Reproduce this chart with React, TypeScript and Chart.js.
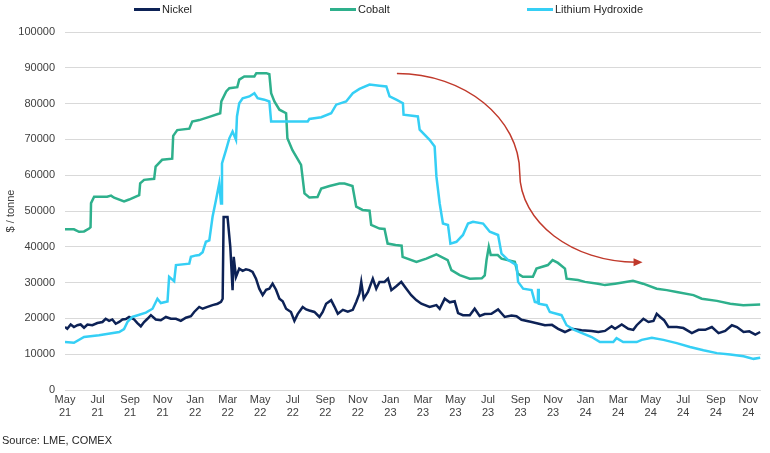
import React, { useEffect, useRef } from "react";
import { Chart, registerables } from "chart.js";

Chart.register(...registerables);

// ---------- data (x = months since May 2021, y = $ / tonne) ----------
const seriesNames = ["Nickel", "Cobalt", "Lithium Hydroxide"];
const seriesColors = ["#0d2256", "#2eb08c", "#35cff5"];

const xTickLabels = [
  "May 21", "Jul 21", "Sep 21", "Nov 21", "Jan 22", "Mar 22", "May 22", "Jul 22",
  "Sep 22", "Nov 22", "Jan 23", "Mar 23", "May 23", "Jul 23", "Sep 23", "Nov 23",
  "Jan 24", "Mar 24", "May 24", "Jul 24", "Sep 24", "Nov 24",
];

const nickel: [number, number][] = [
  [0, 17600], [0.14, 17100], [0.35, 18300], [0.55, 17600], [0.76, 18100], [0.96, 18300],
  [1.17, 17400], [1.38, 18300], [1.68, 18100], [1.99, 18700], [2.3, 19000], [2.5, 19900],
  [2.71, 19300], [2.91, 19700], [3.12, 18500], [3.33, 19000], [3.53, 19700], [3.74, 19800],
  [3.94, 20400], [4.25, 19700], [4.45, 18700], [4.66, 17800], [4.86, 19000], [5.07, 19900],
  [5.28, 20900], [5.58, 19700], [5.89, 19500], [6.2, 20400], [6.51, 19900], [6.82, 19900],
  [7.12, 19300], [7.43, 20200], [7.74, 20600], [7.94, 21800], [8.25, 23200], [8.46, 22700],
  [8.76, 23200], [9.07, 23700], [9.38, 24100], [9.59, 24600], [9.69, 25500],
  [9.75, 48300], [9.99, 48300], [10.16, 40000], [10.3, 27900], [10.37, 37200],
  [10.51, 31600], [10.71, 33900], [10.92, 33300], [11.12, 33700], [11.33, 33500], [11.53, 33000],
  [11.74, 31100], [11.94, 28300], [12.15, 26500], [12.36, 28000], [12.56, 28300], [12.76, 29700],
  [12.97, 28000], [13.18, 25500], [13.38, 24800], [13.59, 22700], [13.89, 21800], [14.1, 19300],
  [14.3, 21200], [14.61, 23200], [14.82, 22500], [15.02, 22200], [15.33, 21800], [15.64, 20400],
  [15.84, 21800], [16.05, 24100], [16.36, 25100], [16.56, 23300], [16.77, 21300], [17.08, 22400],
  [17.38, 21900], [17.69, 22400], [17.9, 24600], [18.1, 27000], [18.21, 30200], [18.36, 25500],
  [18.62, 27400], [18.92, 31100], [19.13, 28300], [19.33, 30200], [19.64, 30200], [19.85, 31100],
  [20.06, 27900], [20.36, 29000], [20.67, 30200], [20.98, 28300], [21.28, 26500], [21.59, 25100],
  [21.9, 24100], [22.41, 23200], [22.83, 23700], [23.03, 22700], [23.34, 25500], [23.65, 24500],
  [23.95, 24800], [24.16, 21500], [24.46, 20900], [24.88, 20900], [25.18, 22700], [25.49, 20700],
  [25.8, 21200], [26.21, 21300], [26.62, 22500], [27.03, 20400], [27.44, 20800], [27.75, 20600],
  [28.06, 19600], [28.68, 19000], [29.5, 18100], [29.93, 18200], [30.31, 17100], [30.73, 16200],
  [31.14, 17100], [31.75, 16700], [32.37, 16500], [32.78, 16200], [33.19, 16500], [33.6, 17800],
  [33.81, 17100], [34.22, 18300], [34.62, 17100], [34.93, 16800], [35.14, 18100], [35.55, 19900],
  [35.86, 19000], [36.17, 19300], [36.37, 21300], [36.58, 20400], [36.82, 19500], [37.09, 17600],
  [37.6, 17600], [38.01, 17300], [38.53, 15900], [38.94, 16800], [39.35, 16800], [39.76, 17600],
  [40.17, 15900], [40.58, 16500], [40.99, 18100], [41.3, 17600], [41.71, 16200], [42.06, 16400],
  [42.43, 15500], [42.73, 16200],
];

const cobalt: [number, number][] = [
  [0, 44900], [0.55, 44900], [0.86, 44200], [1.17, 44300], [1.48, 45100], [1.57, 45500],
  [1.6, 52200], [1.79, 54000], [2.59, 54000], [2.83, 54300], [3.02, 53700], [3.63, 52700],
  [3.94, 53200], [4.56, 54400], [4.62, 57700], [4.86, 58700], [5.48, 59000], [5.57, 62400],
  [5.97, 64300], [6.59, 64600], [6.65, 71000], [6.9, 72600], [7.64, 73000], [7.82, 75000],
  [8.25, 75400], [8.87, 76300], [9.54, 77300], [9.61, 80600], [9.91, 83400], [10.1, 84300],
  [10.59, 84600], [10.71, 86700], [11.02, 87600], [11.64, 87600], [11.76, 88500], [12.38, 88500],
  [12.56, 88200], [12.67, 82900], [12.87, 80600], [13.18, 78300], [13.59, 77300], [13.67, 70300],
  [13.98, 67000], [14.51, 62900], [14.72, 54900], [15.02, 53800], [15.52, 53900], [15.75, 56300],
  [16.26, 57000], [16.87, 57700], [17.18, 57700], [17.67, 57000], [17.9, 51200], [18.29, 50300],
  [18.72, 50100], [18.82, 46100], [19.33, 45100], [19.64, 45000], [19.83, 40900], [20.32, 40500],
  [20.69, 40300], [20.75, 37200], [21.6, 35800], [22.21, 36700], [22.83, 37900], [23.52, 36300],
  [23.75, 33500], [24.26, 32100], [24.88, 31100], [25.62, 31200], [25.8, 32000], [25.91, 36300],
  [26.05, 40000], [26.17, 37700], [26.6, 37700], [26.83, 36700], [27.65, 35800], [27.83, 32500],
  [28.14, 31600], [28.76, 31600], [28.98, 33900], [29.68, 34900], [29.97, 36300], [30.3, 35500],
  [30.73, 33900], [30.83, 31100], [31.53, 30700], [31.96, 30200], [32.76, 29700], [33.19, 29300],
  [33.81, 29700], [34.91, 30500], [35.53, 29700], [36.37, 28300], [36.99, 27900], [37.6, 27400],
  [38.63, 26500], [39.14, 25500], [40.07, 24900], [40.89, 24100], [41.69, 23700], [42.73, 23900],
];

const lithium: [number, number][] = [
  [0, 13400], [0.55, 13200], [1.17, 14800], [2.09, 15300], [3.33, 16200], [3.63, 17000],
  [3.84, 19000], [4.14, 20400], [4.97, 21600], [5.38, 22700], [5.68, 25500], [5.89, 24300],
  [6.3, 24700], [6.4, 31600], [6.71, 30400], [6.82, 34900], [7.64, 35300], [7.74, 37200],
  [8.05, 37600], [8.25, 37700], [8.46, 38500], [8.66, 41400], [8.87, 41800], [9.07, 48400],
  [9.28, 53100], [9.48, 57700], [9.59, 52100], [9.65, 63300], [9.9, 67100], [10.1, 70300],
  [10.3, 72200], [10.51, 69900], [10.57, 76400], [10.71, 80100], [10.92, 81500], [11.33, 82000],
  [11.64, 82900], [11.84, 81500], [12.25, 81100], [12.56, 80600], [12.67, 75000], [14.92, 75000],
  [15.02, 75700], [15.75, 76200], [16.36, 77300], [16.67, 79700], [17.28, 80600], [17.69, 82900],
  [18.1, 84100], [18.72, 85300], [19.33, 85000], [19.75, 84800], [19.95, 82000], [20.36, 81100],
  [20.77, 80100], [20.81, 76900], [21.69, 76400], [21.8, 72700], [22.41, 69900], [22.72, 68000],
  [22.83, 59600], [23.03, 52100], [23.23, 46500], [23.54, 46100], [23.69, 40900], [24.06, 41400],
  [24.46, 43300], [24.77, 46500], [25.08, 47000], [25.7, 46500], [26.11, 44200], [26.62, 43300],
  [26.83, 38100], [27.24, 36300], [27.75, 34900], [27.85, 30200], [28.16, 28300], [28.68, 27900],
  [28.88, 24600], [29.06, 24400], [29.08, 28300], [29.12, 24100], [29.6, 23700], [29.8, 21800],
  [30.52, 20900], [30.83, 18100], [31.34, 16700], [32.37, 14800], [32.88, 13400], [33.7, 13400],
  [33.9, 14500], [34.31, 13400], [35.14, 13400], [35.45, 14000], [36.07, 14600], [36.78, 14000],
  [37.6, 13100], [38.42, 12000], [39.24, 11100], [40.07, 10300], [40.89, 9900], [41.71, 9400],
  [42.32, 8700], [42.73, 9000],
];

// annotation arrow: start, turning point, end (months, $ / tonne)
const arrowPath: [number, number][] = [
  [20.4, 88400],
  [27.95, 60600],
  [35.5, 35700],
];

const X_MAX = 42.78;
const FONT = "'Liberation Sans', Arial, sans-serif";
const TEXT_COLOR = "#404040";

const arrowPlugin = {
  id: "trendArrow",
  afterDatasetsDraw(chart: any) {
    const { ctx, scales } = chart;
    const xs = scales.x;
    const ys = scales.y;
    const [a, b, c] = arrowPath.map(([m, v]) => [xs.getPixelForValue(m), ys.getPixelForValue(v)]);
    const k = 0.55;
    const endX = c[0] - 6;
    ctx.save();
    ctx.strokeStyle = "#c0392b";
    ctx.fillStyle = "#c0392b";
    ctx.lineWidth = 1.5;
    ctx.beginPath();
    ctx.moveTo(a[0], a[1]);
    ctx.bezierCurveTo(a[0] + k * (b[0] - a[0]), a[1], b[0], b[1] - k * (b[1] - a[1]), b[0], b[1]);
    ctx.bezierCurveTo(b[0], b[1] + k * (c[1] - b[1]), endX - k * (endX - b[0]), c[1], endX, c[1]);
    ctx.stroke();
    ctx.beginPath();
    ctx.moveTo(c[0], c[1]);
    ctx.lineTo(c[0] - 9, c[1] - 4);
    ctx.lineTo(c[0] - 9, c[1] + 4);
    ctx.closePath();
    ctx.fill();
    ctx.restore();
  },
};

const legendLeft = [134, 330, 527];

export default function App() {
  const canvasRef = useRef<HTMLCanvasElement | null>(null);

  useEffect(() => {
    if (!canvasRef.current) return;
    const series = [nickel, cobalt, lithium];
    const drawOrder = [2, 1, 0];
    const chart = new Chart(canvasRef.current, {
      type: "line",
      data: {
        datasets: series.map((s, i) => ({
          label: seriesNames[i],
          data: s.map(([x, y]) => ({ x, y })),
          borderColor: seriesColors[i],
          backgroundColor: seriesColors[i],
          borderWidth: 2.5,
          pointRadius: 0,
          tension: 0,
          fill: false,
          order: drawOrder[i],
        })),
      },
      options: {
        responsive: false,
        animation: false,
        devicePixelRatio: 1,
        layout: { padding: { top: 32, right: 9, bottom: 33, left: 0 } },
        plugins: {
          legend: { display: false },
          tooltip: { enabled: false },
        },
        scales: {
          x: {
            type: "linear",
            min: 0,
            max: X_MAX,
            grid: { display: false, drawTicks: false },
            border: { display: false },
            afterFit: (scale: any) => {
              scale.height = 30;
            },
            ticks: {
              stepSize: 2,
              autoSkip: false,
              maxRotation: 0,
              includeBounds: false,
              padding: 3,
              color: TEXT_COLOR,
              font: { family: FONT, size: 11 },
              callback: (v: any) => {
                const idx = Math.round(Number(v) / 2);
                const lbl = xTickLabels[idx];
                return lbl ? lbl.split(" ") : "";
              },
            },
          },
          y: {
            min: 0,
            max: 100000,
            grid: { color: "#d9d9d9", lineWidth: 1, drawTicks: false },
            border: { display: false },
            afterFit: (scale: any) => {
              scale.width = 65;
            },
            title: {
              display: true,
              text: "$ / tonne",
              color: TEXT_COLOR,
              font: { family: FONT, size: 11 },
              padding: { top: 4, bottom: 0 },
            },
            ticks: {
              stepSize: 10000,
              padding: 10,
              color: TEXT_COLOR,
              font: { family: FONT, size: 11 },
              callback: (v: any) => String(v),
            },
          },
        },
      },
      plugins: [arrowPlugin],
    } as any);
    return () => chart.destroy();
  }, []);

  return (
    <div
      style={{
        position: "fixed",
        left: 0,
        top: 0,
        width: 770,
        height: 453,
        background: "#ffffff",
        fontFamily: FONT,
      }}
    >
      <canvas
        ref={canvasRef}
        width={770}
        height={453}
        style={{ position: "absolute", left: 0, top: 0, width: 770, height: 453 }}
      />
      {seriesNames.map((name, i) => (
        <div
          key={name}
          style={{
            position: "absolute",
            left: legendLeft[i],
            top: 0,
            height: 19,
            lineHeight: "19px",
            fontSize: 11,
            color: "#262626",
            whiteSpace: "nowrap",
            display: "flex",
            alignItems: "center",
          }}
        >
          <span
            style={{
              display: "inline-block",
              width: 26,
              height: 3,
              background: seriesColors[i],
              marginRight: 2,
            }}
          />
          <span>{name}</span>
        </div>
      ))}
      <div
        style={{
          position: "absolute",
          left: 2,
          top: 433,
          fontSize: 11,
          lineHeight: "14px",
          color: "#262626",
          whiteSpace: "nowrap",
        }}
      >
        Source: LME, COMEX
      </div>
    </div>
  );
}
